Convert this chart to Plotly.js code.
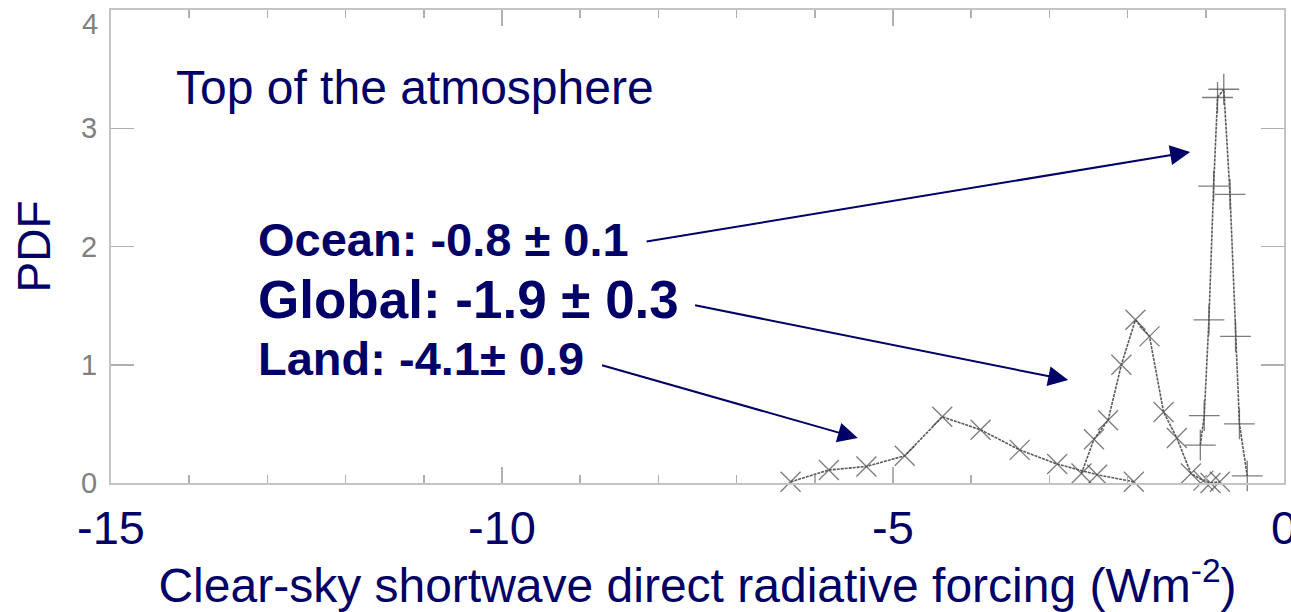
<!DOCTYPE html>
<html>
<head>
<meta charset="utf-8">
<script src="https://cdn.plot.ly/plotly-3.0.1.min.js"></script>
<style>html,body{margin:0;padding:0;background:#fff;}#chart{width:1291px;height:612px;}</style>
</head>
<body>
<div id="chart"></div>
<script>
// Land PDF (X markers)
const landX = [-6.31, -5.82, -5.34, -4.85, -4.37, -3.88, -3.38, -2.90, -2.39, -1.92];
const landY = [0.01, 0.11, 0.14, 0.23, 0.56, 0.45, 0.28, 0.16, 0.07, 0.01];
// Global PDF (X markers)
const globalX = [-2.59, -2.43, -2.25, -2.08, -1.90, -1.72, -1.54, -1.37, -1.19, -1.03, -0.94, -0.82];
const globalY = [0.08, 0.37, 0.53, 1.00, 1.38, 1.24, 0.60, 0.38, 0.08, 0.02, 0.00, 0.01];
// Ocean PDF (+ markers)
const oceanX = [-1.07, -1.02, -0.96, -0.90, -0.85, -0.77, -0.69, -0.62, -0.57, -0.47];
const oceanY = [0.32, 0.57, 1.38, 2.51, 3.26, 3.33, 2.44, 1.24, 0.50, 0.06];

const xTicks = [-15, -10, -5, 0];
const yTicks = [0, 1, 2, 3, 4];

const labels = {
  ocean: "Ocean: -0.8 \u00b1 0.1",
  global: "Global: -1.9 \u00b1 0.3",
  land: "Land: -4.1\u00b1 0.9",
  title: "Top of the atmosphere",
  xTitle: "Clear-sky shortwave direct radiative forcing (Wm<sup>-2</sup>)",
  yTitle: "PDF"
};

const NAVY = '#000066';
const FONT = '"Liberation Sans", Arial, sans-serif';

function series(x, y, symbol, size) {
  return {
    x: x, y: y, type: 'scatter', mode: 'lines+markers', cliponaxis: false,
    line: {color: 'rgba(60,60,60,0.85)', width: 1.6, dash: '3px,1px'},
    marker: {symbol: symbol, size: size, color: 'rgba(80,80,80,0.75)', line: {color: 'rgba(80,80,80,0.75)', width: 1.3}},
    hoverinfo: 'x+y', showlegend: false
  };
}

const data = [
  series(landX, landY, 'x-thin-open', 20),
  series(globalX, globalY, 'x-thin-open', 20),
  series(oceanX, oceanY, 'cross-thin-open', 22)
];

function arrow(tx, ty, sx, sy) {
  return {x: tx, y: ty, ax: sx, ay: sy, xref: 'x', yref: 'y', axref: 'x', ayref: 'y',
    text: '', showarrow: true, arrowhead: 2, arrowsize: 2, arrowwidth: 2, arrowcolor: NAVY, standoff: 0};
}

// top y tick label sits slightly below its tick in the reference, drawn as an annotation
const topY = yTicks[yTicks.length - 1];
const yTickText = yTicks.map(v => v === topY ? '' : String(v));

const layout = {
  width: 1291, height: 612,
  margin: {l: 111, r: 7, t: 10, b: 129},
  paper_bgcolor: '#fff', plot_bgcolor: '#fff',
  font: {family: FONT, color: NAVY},
  xaxis: {
    range: [-15, 0], tickvals: xTicks, ticktext: xTicks.map(String),
    ticks: 'inside', ticklen: 16, tickcolor: '#b0b0b0', tickwidth: 1.5,
    minor: {dtick: 1, ticks: 'inside', ticklen: 8, tickcolor: '#b0b0b0', tickwidth: 1.5},
    showline: true, linecolor: '#c4c4c4', linewidth: 2, mirror: 'ticks',
    showgrid: false, zeroline: false, ticklabeloverflow: 'allow',
    tickfont: {family: FONT, size: 47, color: NAVY}, ticklabelstandoff: 3,
    title: {text: labels.xTitle, font: {family: FONT, size: 48, color: NAVY}, standoff: 6}
  },
  yaxis: {
    range: [0, 4], tickvals: yTicks, ticktext: yTickText,
    ticks: 'inside', ticklen: 23, tickcolor: '#b0b0b0', tickwidth: 1.5,
    showline: true, linecolor: '#c4c4c4', linewidth: 2, mirror: 'ticks',
    showgrid: false, zeroline: false, ticklabeloverflow: 'allow',
    tickfont: {family: FONT, size: 29, color: '#808080'}, ticklabelstandoff: 6,
    title: {text: labels.yTitle, font: {family: FONT, size: 46, color: NAVY}, standoff: 16}
  },
  annotations: [
    {xref: 'paper', yref: 'paper', x: -0.0095, y: 0.97, xanchor: 'right', yanchor: 'middle', showarrow: false,
     text: String(topY), font: {family: FONT, size: 29, color: '#808080'}},
    {xref: 'paper', yref: 'paper', x: 0.054, y: 0.837, xanchor: 'left', yanchor: 'middle', showarrow: false,
     text: labels.title, font: {family: FONT, size: 48, color: NAVY}},
    {xref: 'paper', yref: 'paper', x: 0.124, y: 0.514, xanchor: 'left', yanchor: 'middle', showarrow: false,
     text: '<b>' + labels.ocean + '</b>', font: {family: FONT, size: 47, color: NAVY}},
    {xref: 'paper', yref: 'paper', x: 0.124, y: 0.387, xanchor: 'left', yanchor: 'middle', showarrow: false,
     text: '<b>' + labels.global + '</b>', font: {family: FONT, size: 53, color: NAVY}},
    {xref: 'paper', yref: 'paper', x: 0.124, y: 0.264, xanchor: 'left', yanchor: 'middle', showarrow: false,
     text: '<b>' + labels.land + '</b>', font: {family: FONT, size: 47, color: NAVY}},
    arrow(-1.20, 2.80, -8.17, 2.04),
    arrow(-2.76, 0.87, -7.55, 1.505),
    arrow(-5.45, 0.38, -8.74, 1.00)
  ]
};

Plotly.newPlot('chart', data, layout, {displayModeBar: false, staticPlot: true});
</script>
</body>
</html>
